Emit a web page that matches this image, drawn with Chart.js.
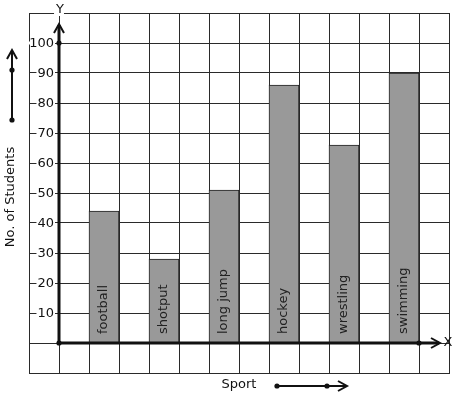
<!DOCTYPE html>
<html>
<head>
<meta charset="utf-8">
<script src="https://cdn.jsdelivr.net/npm/chart.js@4/dist/chart.umd.min.js"></script>
<style>
  html, body { margin: 0; padding: 0; background: #fff; }
  #wrap { width: 457px; height: 399px; }
</style>
</head>
<body>
<div id="wrap"><canvas id="myChart" width="457" height="399"></canvas></div>
<script>
// data
var sports = ['football', 'shotput', 'long jump', 'hockey', 'wrestling', 'swimming'];
var students = [44, 28, 51, 86, 66, 90];
var yTicks = [10, 20, 30, 40, 50, 60, 70, 80, 90, 100];

// the grid has 14 columns, a sport sits in every second one starting at column 2
var slots = [];
var slotValues = [];
for (var i = 0; i < 14; i++) {
  slots.push('');
  slotValues.push(null);
}
sports.forEach(function (s, k) {
  slots[2 + 2 * k] = s;
  slotValues[2 + 2 * k] = students[k];
});

var FONT = '13px "DejaVu Sans"';
var INK = '#111';

function dot(ctx, x, y) {
  ctx.beginPath();
  ctx.arc(x, y, 2.6, 0, Math.PI * 2);
  ctx.fill();
}

function chevronUp(ctx, x, y) {
  ctx.beginPath();
  ctx.moveTo(x - 5, y + 9);
  ctx.lineTo(x, y);
  ctx.lineTo(x + 5, y + 9);
  ctx.stroke();
}

function chevronRight(ctx, x, y) {
  ctx.beginPath();
  ctx.moveTo(x - 9, y - 5);
  ctx.lineTo(x, y);
  ctx.lineTo(x - 9, y + 5);
  ctx.stroke();
}

var decor = {
  id: 'decor',
  afterDraw: function (chart) {
    var ctx = chart.ctx;
    var xs = chart.scales.x;
    var ys = chart.scales.y;
    var area = chart.chartArea;
    var half = (xs.getPixelForValue(1) - xs.getPixelForValue(0)) / 2;
    var axisX = xs.getPixelForValue(0) + half;
    var baseY = ys.getPixelForValue(0);

    ctx.save();
    ctx.font = FONT;
    ctx.fillStyle = INK;
    ctx.strokeStyle = INK;

    // y tick labels on a white patch
    ctx.textAlign = 'right';
    ctx.textBaseline = 'middle';
    yTicks.forEach(function (v) {
      var py = ys.getPixelForValue(v);
      var txt = String(v);
      var w = ctx.measureText(txt).width;
      ctx.fillStyle = '#fff';
      ctx.fillRect(axisX - 5 - w - 1, py - 1.5, w + 2, 3);
      ctx.fillStyle = INK;
      ctx.fillText(txt, axisX - 5, py + 0.5);
    });

    // sport names inside the bars
    ctx.textAlign = 'left';
    ctx.textBaseline = 'middle';
    sports.forEach(function (s, k) {
      var px = xs.getPixelForValue(2 + 2 * k);
      ctx.save();
      ctx.translate(px, baseY - 9);
      ctx.rotate(-Math.PI / 2);
      ctx.fillStyle = '#222';
      ctx.fillText(s, 0, 0);
      ctx.restore();
    });

    // thick axes
    ctx.lineWidth = 3;
    ctx.beginPath();
    ctx.moveTo(axisX, baseY);
    ctx.lineTo(axisX, area.top + 12);
    ctx.stroke();
    ctx.beginPath();
    ctx.moveTo(axisX, baseY);
    ctx.lineTo(area.right - 10, baseY);
    ctx.stroke();
    ctx.lineWidth = 2;
    chevronUp(ctx, axisX, area.top + 11);
    chevronRight(ctx, area.right - 9, baseY);
    dot(ctx, axisX, baseY);
    dot(ctx, axisX, ys.getPixelForValue(100));
    dot(ctx, xs.getPixelForValue(12) + half, baseY);

    // axis letters
    ctx.textAlign = 'center';
    ctx.textBaseline = 'middle';
    var yw = ctx.measureText('Y').width;
    ctx.fillStyle = '#fff';
    ctx.fillRect(axisX - yw / 2 - 1, area.top - 3, yw + 2, 6);
    ctx.fillStyle = INK;
    ctx.fillText('Y', axisX + 1, area.top - 3);
    ctx.fillText('X', area.right - 1, baseY);

    // axis titles with their arrows
    ctx.save();
    ctx.translate(11, 197);
    ctx.rotate(-Math.PI / 2);
    ctx.fillText('No. of Students', 0, 0);
    ctx.restore();
    ctx.lineWidth = 2;
    ctx.beginPath();
    ctx.moveTo(12, 120);
    ctx.lineTo(12, 51);
    ctx.stroke();
    chevronUp(ctx, 12, 50);
    dot(ctx, 12, 120);
    dot(ctx, 12, 70);

    ctx.fillText('Sport', 239, 385);
    ctx.beginPath();
    ctx.moveTo(277, 386);
    ctx.lineTo(346, 386);
    ctx.stroke();
    chevronRight(ctx, 347, 386);
    dot(ctx, 277, 386);
    dot(ctx, 327, 386);
    ctx.restore();
  }
};

var ctx = document.getElementById('myChart').getContext('2d');
var myChart = new Chart(ctx, {
  type: 'bar',
  data: {
    labels: slots,
    datasets: [{
      label: 'No. of Students',
      data: slotValues,
      backgroundColor: '#999999',
      borderColor: '#222',
      borderWidth: 1,
      categoryPercentage: 1.0,
      barPercentage: 1.0
    }]
  },
  options: {
    responsive: false,
    animation: false,
    layout: { padding: { left: 29, top: 13, right: 8, bottom: 26 } },
    plugins: {
      legend: { display: false },
      tooltip: { enabled: false }
    },
    scales: {
      x: {
        offset: true,
        grid: { color: '#2a2a2a', lineWidth: 1, offset: true, drawTicks: false },
        border: { color: '#2a2a2a' },
        ticks: { display: false }
      },
      y: {
        min: -10,
        max: 110,
        grid: { color: '#2a2a2a', lineWidth: 1, drawTicks: false },
        border: { color: '#2a2a2a' },
        ticks: { display: false, stepSize: 10 }
      }
    }
  },
  plugins: [decor]
});
</script>
</body>
</html>
